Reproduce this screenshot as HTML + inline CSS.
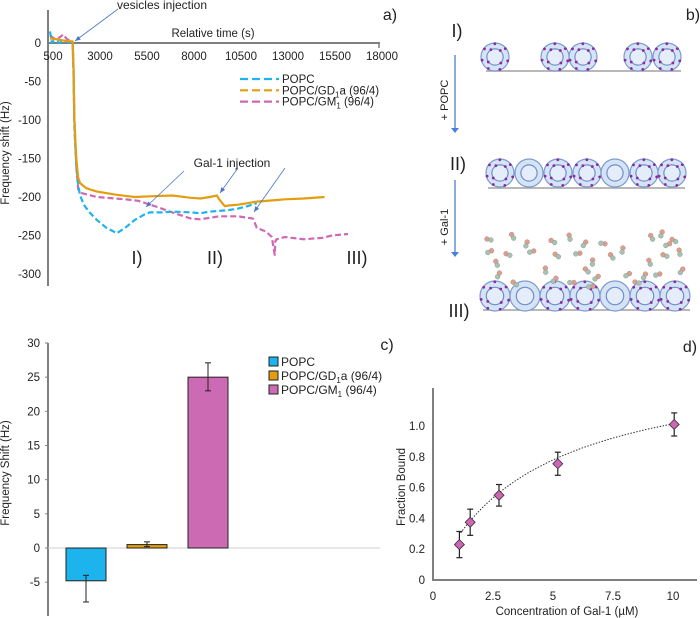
<!DOCTYPE html>
<html><head><meta charset="utf-8"><style>
body{margin:0;background:#fff;}
svg{display:block;font-family:"Liberation Sans",Arial,sans-serif;}
</style></head><body>
<svg id="fig" width="700" height="618" viewBox="0 0 700 618">
<g id="pa"></g>
<g id="pb"></g>
<g id="pc"></g>
<g id="pd"></g>
</svg>
<script>
// ---------- Panel a data ----------
const aXTicks = [500,3000,5500,8000,10500,13000,15500,18000];
const aYTicks = [0,-50,-100,-150,-200,-250,-300];
const popcT = [500,600,700,900,1000,1200,1500,1700,1750,1800,1900,2000,2100,2300,2600,3000,3500,4060,4500,5000,5500,5800,6500,7000,8000,8500,9000,9500,10000,10500,11000,11500];
const popcV = [15,0,3,2,0,3,1,0,-40,-110,-160,-185,-198,-210,-220,-230,-240,-247,-240,-230,-223,-220,-220,-219,-220,-221,-219,-218,-217,-215,-212,-208];
const gd1aT = [500,800,1000,1300,1700,1750,1800,1900,2000,2100,2400,2600,3000,4000,5000,6000,7000,8000,8500,9000,9380,9500,9800,10000,10500,11000,11500,12500,13000,14000,15100];
const gd1aV = [6,5,4,3,2,-30,-100,-150,-175,-182,-188,-190,-193,-197,-200,-199,-198,-201,-202,-200,-198,-203,-212,-211,-210,-208,-206,-204,-203,-202,-200];
const gm1T = [500,700,1000,1200,1400,1700,1750,1800,1900,2000,2200,3000,4500,5200,6200,7000,8000,8500,9500,10500,11300,11500,12000,12300,12450,12480,12550,13000,14000,15000,15500,16350];
const gm1V = [10,6,7,11,5,2,-30,-100,-160,-190,-195,-200,-203,-205,-213,-220,-228,-229,-225,-225,-228,-240,-245,-252,-275,-258,-255,-252,-255,-253,-250,-248];
// ---------- Panel c data ----------
const cCats = ["POPC","POPC/GD1a (96/4)","POPC/GM1 (96/4)"];
const cVals = [-4.8,0.5,25];
const cErrLo = [-7.9,0.2,23];
const cErrHi = [-4.0,0.9,27.1];
const cYTicks = [30,25,20,15,10,5,0,-5];
// ---------- Panel d data ----------
const dConc = [1.1,1.55,2.75,5.2,10.05];
const dFrac = [0.23,0.375,0.55,0.755,1.01];
const dErr = [0.085,0.085,0.07,0.075,0.075];
const dXTicks = [0,2.5,5,7.5,10];
const dYTicks = [0,0.2,0.4,0.6,0.8,1.0];
const dFitBmax = 1.45, dFitKd = 4.3;

const NS="http://www.w3.org/2000/svg";
function mk(parent,tag,attrs,text){const e=document.createElementNS(NS,tag);for(const k in attrs)e.setAttribute(k,attrs[k]);if(text!==undefined)e.textContent=text;parent.appendChild(e);return e;}
const GREY="#7f7f7f", BLUE="#1db3ec", ORANGE="#e39d0e", PINK="#d067b6";

// ================= Panel a =================
const pa=document.getElementById('pa');
const ax=t=>50+(t-500)*(379-50)/17500;
const ay=v=>43+(-v)*(274-43)/300;
let e;
e=mk(pa,'line',{x1:48,y1:10,x2:48,y2:286,stroke:GREY,'stroke-width':2});


e=mk(pa,'line',{x1:48,y1:43,x2:380,y2:43,stroke:GREY,'stroke-width':2});


mk(pa,'line',{x1:379,y1:43,x2:379,y2:48,stroke:GREY,'stroke-width':1.5});
aXTicks.forEach(t=>{
  e=mk(pa,'text',{x:ax(t)+3,y:60,'font-size':11.5,'text-anchor':'middle',fill:'#222'},String(t));
  
  
});
aYTicks.forEach(v=>{
  e=mk(pa,'text',{x:41,y:ay(v)+4,'font-size':11.5,'text-anchor':'end',fill:'#222'},String(v));
  
  
});
e=mk(pa,'text',{x:213,y:37,'font-size':11.5,'text-anchor':'middle',fill:'#222'},'Relative time (s)');


e=mk(pa,'text',{x:0,y:0,'font-size':11.5,'text-anchor':'middle',fill:'#222',transform:'translate(9,153) rotate(-90)'},'Frequency shift (Hz)');


function series(T,V,color,dash,name){
  const d=T.map((t,i)=>(i?'L':'M')+ax(t).toFixed(1)+','+ay(V[i]).toFixed(1)).join(' ');
  const p=mk(pa,'path',{d:d,fill:'none',stroke:color,'stroke-width':2.2,'stroke-dasharray':dash,'stroke-linejoin':'round'});
  
  
}
series(gm1T,gm1V,PINK,'6,3','line-popc-gm1');
series(popcT,popcV,BLUE,'6,3','line-popc');
series(gd1aT,gd1aV,ORANGE,'none','line-popc-gd1a');
// legend
const legA=[[BLUE,'POPC',''],[ORANGE,'POPC/GD','a (96/4)'],[PINK,'POPC/GM','  (96/4)']];
legA.forEach((L,i)=>{
  const y=79+i*11.3;
  e=mk(pa,'line',{x1:240,y1:y,x2:279,y2:y,stroke:L[0],'stroke-width':2.2,'stroke-dasharray':'8,4'});
  
  
  const t=mk(pa,'text',{x:282,y:y+4,'font-size':11.5,fill:'#222'});
  
  
  mk(t,'tspan',{},L[1]);
  if(i>0){mk(t,'tspan',{dy:3,'font-size':8},'1');mk(t,'tspan',{dy:-3,'xml:space':'preserve'},L[2]);}
});
// annotations
e=mk(pa,'text',{x:162,y:9,'font-size':12,'text-anchor':'middle',fill:'#222'},'vesicles injection');


e=mk(pa,'text',{x:232,y:167,'font-size':12,'text-anchor':'middle',fill:'#222'},'Gal-1 injection');


[[118,9,75,41],[184,171,146,207],[238,168,220,193],[285,168,254,212]].forEach(a=>{
  mk(pa,'line',{x1:a[0],y1:a[1],x2:a[2],y2:a[3],stroke:'#4a78c8','stroke-width':0.8});
  const ang=Math.atan2(a[3]-a[1],a[2]-a[0]);
  const p=[[a[2],a[3]],[a[2]-6*Math.cos(ang-0.4),a[3]-6*Math.sin(ang-0.4)],[a[2]-6*Math.cos(ang+0.4),a[3]-6*Math.sin(ang+0.4)]];
  mk(pa,'polygon',{points:p.map(q=>q.join(',')).join(' '),fill:'#4a78c8'});
});
[['I)',137],['II)',215],['III)',357]].forEach(s=>{
  e=mk(pa,'text',{x:s[1],y:264,'font-size':18,'text-anchor':'middle',fill:'#222'},s[0]);
  
  
});
e=mk(pa,'text',{x:390,y:20,'font-size':16,'text-anchor':'middle',fill:'#222'},'a)');



// ================= Panel b =================
const pb=document.getElementById('pb');
e=mk(pb,'text',{x:693,y:20,'font-size':16,'text-anchor':'middle',fill:'#222'},'b)');


function vesicle(cx,cy,r,lipid){
  const g=mk(pb,'g',{});
  
  
  mk(g,'circle',{cx:cx,cy:cy,r:r,fill:'#d5e3f4',stroke:'#7b9bd2','stroke-width':1.2});
  mk(g,'circle',{cx:cx,cy:cy,r:r*0.58,fill:'#e4edf9',stroke:'#6f8fcc','stroke-width':1.2});
  if(lipid){
    [0.3,1.2,2.1,2.9,3.8,4.7,5.6].forEach(a=>mk(g,'circle',{cx:cx+r*0.95*Math.cos(a),cy:cy+r*0.95*Math.sin(a),r:1.4,fill:'#8a2aa0'}));
    [0.8,2.5,4.2,5.4].forEach(a=>mk(g,'circle',{cx:cx+r*0.6*Math.cos(a),cy:cy+r*0.6*Math.sin(a),r:1.4,fill:'#8a2aa0'}));
  }
}
function base(x1,x2,y){mk(pb,'line',{x1:x1,y1:y,x2:x2,y2:y,stroke:'#a0a0a0','stroke-width':1.5});}
base(486,681,71);
[495,555,583,638,667].forEach(x=>vesicle(x,57,14,true));
base(488,685,188);
[[500,1],[529,0],[558,1],[587,1],[615,0],[644,1],[672,1]].forEach(v=>vesicle(v[0],173,14,v[1]));
base(483,690,310);
[[495,1],[525,0],[555,1],[585,1],[615,0],[645,1],[675,1]].forEach(v=>vesicle(v[0],296,15,v[1]));
// gal-1 molecules (schematic)
[[489,239],[513,236],[527,244],[490,252],[508,254],[497,263],[499,275],[532,252],[553,241],[570,237],[585,244],[578,254],[557,255],[546,270],[555,280],[572,283],[587,270],[593,262],[597,278],[603,244],[612,256],[623,250],[628,275],[637,282],[652,237],[662,234],[668,245],[665,255],[650,262],[645,276],[658,275],[674,240],[680,252],[682,271],[591,287],[515,283]].forEach((p,i)=>{
  const g=mk(pb,'g',{transform:`translate(${p[0]},${p[1]}) rotate(${(i*47)%180})`});
  
  
  mk(g,'circle',{cx:-2,cy:0,r:2.4,fill:'#d9a08f',stroke:'#b77',"stroke-width":0.4});
  mk(g,'circle',{cx:2,cy:1,r:2.4,fill:'#a9c1b2',stroke:'#798','stroke-width':0.4});
});
function varrow(x,y1,y2){mk(pb,'line',{x1:x,y1:y1,x2:x,y2:y2,stroke:'#4a7fd8','stroke-width':1.3});mk(pb,'polygon',{points:`${x-4},${y2-3} ${x+4},${y2-3} ${x},${y2+2}`,fill:'#4a7fd8'});}
varrow(455,55,131);varrow(455,180,255);
[['I)',457,37,18],['II)',458,170,18],['III)',459,317,18]].forEach(s=>{
  e=mk(pb,'text',{x:s[1],y:s[2],'font-size':s[3],'text-anchor':'middle',fill:'#222'},s[0]);
  
  
});
e=mk(pb,'text',{x:0,y:0,'font-size':11,'text-anchor':'middle',fill:'#222',transform:'translate(448,100) rotate(-90)'},'+ POPC');


e=mk(pb,'text',{x:0,y:0,'font-size':11,'text-anchor':'middle',fill:'#222',transform:'translate(448,227) rotate(-90)'},'+ Gal-1');



// ================= Panel c =================
const pc=document.getElementById('pc');
const cy=v=>548-v*(548-343)/30;
const cBarX=[66,127,188], cColors=[BLUE,ORANGE,'#cc6bb3'];
e=mk(pc,'line',{x1:48,y1:343,x2:48,y2:616,stroke:GREY,'stroke-width':2});


e=mk(pc,'line',{x1:48,y1:548,x2:380,y2:548,stroke:'#cfcfcf','stroke-width':1});


cYTicks.forEach(v=>{
  mk(pc,'line',{x1:45,y1:cy(v),x2:48,y2:cy(v),stroke:GREY,'stroke-width':1});
  e=mk(pc,'text',{x:40,y:cy(v)+4,'font-size':11.5,'text-anchor':'end',fill:'#222'},String(v));
  
  
});
e=mk(pc,'text',{x:0,y:0,'font-size':11.5,'text-anchor':'middle',fill:'#222',transform:'translate(9,473) rotate(-90)'},'Frequency Shift (Hz)');


cVals.forEach((v,i)=>{
  const y0=cy(0),y1=cy(v);
  e=mk(pc,'rect',{x:cBarX[i],y:Math.min(y0,y1),width:40,height:Math.abs(y1-y0),fill:cColors[i],stroke:'#222','stroke-width':1});
  
  
  const cx=cBarX[i]+20;
  const g=mk(pc,'g',{stroke:'#222','stroke-width':1});
  
  
  mk(g,'line',{x1:cx,y1:cy(cErrLo[i]),x2:cx,y2:cy(cErrHi[i])});
  mk(g,'line',{x1:cx-3,y1:cy(cErrLo[i]),x2:cx+3,y2:cy(cErrLo[i])});
  mk(g,'line',{x1:cx-3,y1:cy(cErrHi[i]),x2:cx+3,y2:cy(cErrHi[i])});
});
const legC=[['POPC','',''],['POPC/GD','1','a (96/4)'],['POPC/GM','1','  (96/4)']];
legC.forEach((L,i)=>{
  const y=362+i*14;
  e=mk(pc,'rect',{x:269,y:y-5,width:9,height:9,fill:cColors[i],stroke:'#222','stroke-width':1});
  
  
  const t=mk(pc,'text',{x:281,y:y+4,'font-size':12,fill:'#222'});
  
  
  mk(t,'tspan',{},L[0]);
  if(L[1]){mk(t,'tspan',{dy:3,'font-size':8},L[1]);mk(t,'tspan',{dy:-3,'xml:space':'preserve'},L[2]);}
});
e=mk(pc,'text',{x:387,y:350,'font-size':16,'text-anchor':'middle',fill:'#222'},'c)');



// ================= Panel d =================
const pd=document.getElementById('pd');
const dx=c=>433+c*(673-433)/10;
const dy=f=>580-f*(580-426);
e=mk(pd,'line',{x1:433,y1:388,x2:433,y2:581,stroke:GREY,'stroke-width':2});


e=mk(pd,'line',{x1:432,y1:580,x2:697,y2:580,stroke:GREY,'stroke-width':2});


dXTicks.forEach(v=>{
  e=mk(pd,'text',{x:dx(v),y:600,'font-size':11.5,'text-anchor':'middle',fill:'#222'},String(v));
  
  
});
dYTicks.forEach(v=>{
  e=mk(pd,'text',{x:425,y:dy(v)+4,'font-size':11.5,'text-anchor':'end',fill:'#222'},v===0?'0':v.toFixed(1));
  
  
});
e=mk(pd,'text',{x:567,y:615,'font-size':11.5,'text-anchor':'middle',fill:'#222'},'Concentration of Gal-1 (\u00b5M)');


e=mk(pd,'text',{x:0,y:0,'font-size':11.5,'text-anchor':'middle',fill:'#222',transform:'translate(405,487) rotate(-90)'},'Fraction Bound');


let fd='';
for(let i=0;i<=60;i++){const c=1.15+(10.05-1.15)*i/60;const f=dFitBmax*c/(dFitKd+c);fd+=(i?'L':'M')+dx(c).toFixed(1)+','+dy(f).toFixed(1);}
e=mk(pd,'path',{d:fd,fill:'none',stroke:'#333','stroke-width':1,'stroke-dasharray':'1.5,1.5'});


dConc.forEach((c,i)=>{
  const x=dx(c),y=dy(dFrac[i]),y1=dy(dFrac[i]-dErr[i]),y2=dy(dFrac[i]+dErr[i]);
  const g=mk(pd,'g',{stroke:'#222','stroke-width':1.2});
  
  
  mk(g,'line',{x1:x,y1:y1,x2:x,y2:y2});
  mk(g,'line',{x1:x-3,y1:y1,x2:x+3,y2:y1});
  mk(g,'line',{x1:x-3,y1:y2,x2:x+3,y2:y2});
  e=mk(pd,'polygon',{points:`${x},${y-5} ${x+5},${y} ${x},${y+5} ${x-5},${y}`,fill:'#d065b8',stroke:'#333','stroke-width':0.8});
  
  
});
e=mk(pd,'text',{x:690,y:352,'font-size':16,'text-anchor':'middle',fill:'#222'},'d)');


</script>
</body></html>
